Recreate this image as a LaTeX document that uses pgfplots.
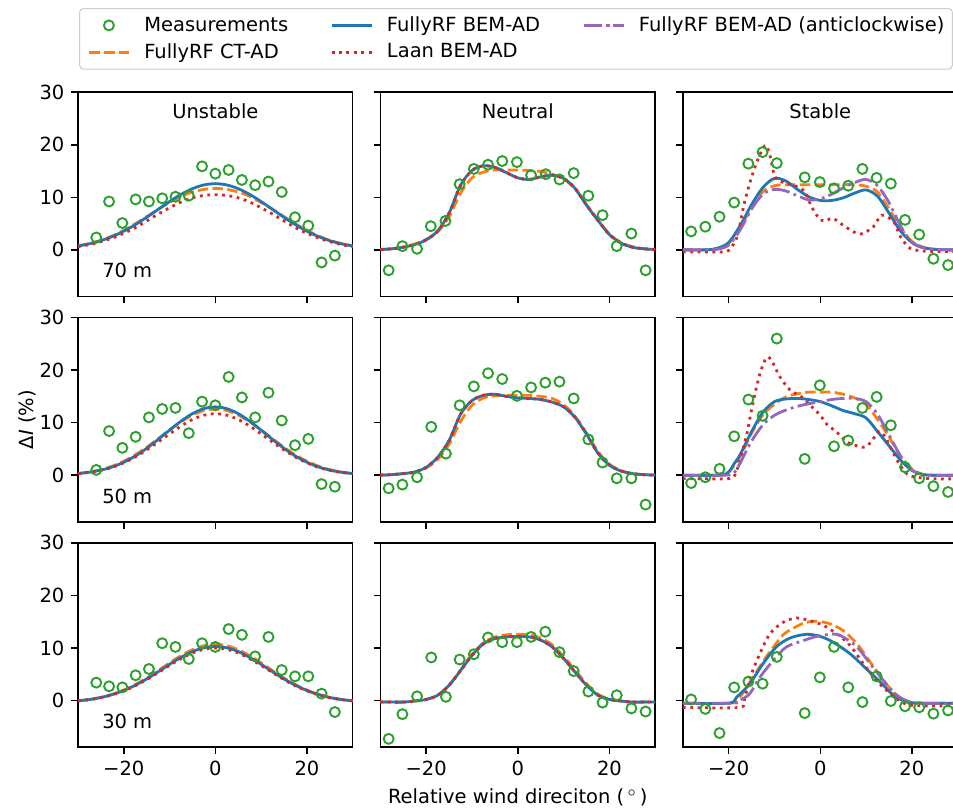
\documentclass[border=0pt]{standalone}
\usepackage{fontspec}
\setmainfont{DejaVu Sans}
\usepackage{pgfplots}
\pgfplotsset{compat=1.18}
\usepgfplotslibrary{groupplots}

\definecolor{mblue}{HTML}{1F77B4}
\definecolor{morange}{HTML}{FF7F0E}
\definecolor{mgreen}{HTML}{2CA02C}
\definecolor{mred}{HTML}{D62728}
\definecolor{mpurple}{HTML}{9467BD}

\pgfplotsset{
  meas/.style={only marks, mark=o, mark size=2.5pt, color=mgreen, mark options={line width=0.95pt}},
  ctad/.style={color=morange, line width=1.4pt, dash pattern=on 5.2pt off 2.2pt, smooth, no markers},
  bem/.style={color=mblue, line width=1.4pt, smooth, no markers},
  laan/.style={color=mred, line width=1.4pt, dash pattern=on 1.4pt off 2.3pt, smooth, no markers},
  anti/.style={color=mpurple, line width=1.4pt, dash pattern=on 9pt off 2.2pt on 1.4pt off 2.2pt, smooth, no markers},
}

\begin{document}
\fontsize{9.75}{11.7}\selectfont
\begin{tikzpicture}
\begin{groupplot}[
  group style={group size=3 by 3, horizontal sep=13.85pt, vertical sep=10.5pt},
  scale only axis, width=137.5pt, height=102.25pt,
  xmin=-30, xmax=30, ymin=-8.9, ymax=30,
  xtick={-20,0,20}, ytick={0,10,20,30},
  xticklabels={}, yticklabels={},
  tick align=outside, tick pos=left,
  major tick length=3.35pt,
  axis line style={line width=0.76pt},
  every tick/.append style={line width=0.76pt, black},
  legend image code/.code={\draw[mark repeat=2,mark phase=2,#1] plot coordinates {(0pt,0pt) (10pt,0pt) (20pt,0pt)};},
  every axis plot/.append style={forget plot},
  ylabel shift=-5pt,
]

% ---------------- 70 m, unstable ----------------
\nextgroupplot[yticklabels={0,10,20,30},
  legend columns=3,
  legend style={at={(0.004,1.412)}, anchor=north west, draw=black!20, line width=0.5pt,
    rounded corners=2pt, fill=white, inner xsep=4pt, inner ysep=4pt,
    row sep=4.6pt,
    /tikz/every odd column/.append style={column sep=7pt},
    /tikz/every even column/.append style={column sep=21pt},
    nodes={inner sep=0pt}},
  legend cell align=left]
\addlegendimage{meas}\addlegendentry{Measurements}
\addlegendimage{bem}\addlegendentry{FullyRF BEM-AD}
\addlegendimage{anti}\addlegendentry{FullyRF BEM-AD (anticlockwise)}
\addlegendimage{ctad}\addlegendentry{FullyRF CT-AD}
\addlegendimage{laan}\addlegendentry{Laan BEM-AD}
\addplot[meas] coordinates {(-26.0,2.35) (-23.2,9.2) (-20.3,5.1) (-17.4,9.6) (-14.5,9.2) (-11.6,9.8) (-8.7,10.1) (-5.8,10.3) (-2.9,15.9) (0,14.5) (2.9,15.2) (5.8,13.3) (8.7,12.3) (11.6,13.0) (14.5,11.0) (17.4,6.2) (20.3,4.6) (23.2,-2.4) (26.1,-1.1)};
\addplot[ctad] coordinates {(-30,0.75)(-27.5,1.2)(-25,1.8)(-22.5,2.65)(-20,3.7)(-17.5,4.95)(-15,6.3)(-12.5,7.7)(-10,9.0)(-7.5,10.2)(-5,11.0)(-2.5,11.5)(0,11.7)(2.5,11.5)(5,11.0)(7.5,10.2)(10,9.0)(12.5,7.7)(15,6.3)(17.5,4.95)(20,3.7)(22.5,2.65)(25,1.8)(27.5,1.2)(30,0.75)};
\addplot[bem] coordinates {(-30,0.73)(-27.5,1.15)(-25,1.74)(-22.5,2.54)(-20,3.55)(-17.5,4.78)(-15,6.19)(-12.5,7.69)(-10,9.19)(-7.5,10.55)(-5,11.64)(-2.5,12.35)(0,12.6)(2.5,12.35)(5,11.64)(7.5,10.55)(10,9.19)(12.5,7.69)(15,6.19)(17.5,4.78)(20,3.55)(22.5,2.54)(25,1.74)(27.5,1.15)(30,0.73)};
\addplot[laan] coordinates {(-30,0.6)(-27.5,1.0)(-25,1.55)(-22.5,2.25)(-20,3.15)(-17.5,4.2)(-15,5.5)(-12.5,6.8)(-10,8.0)(-7.5,9.1)(-5,9.9)(-2.5,10.35)(0,10.5)(2.5,10.35)(5,9.9)(7.5,9.1)(10,8.0)(12.5,6.8)(15,5.5)(17.5,4.2)(20,3.15)(22.5,2.25)(25,1.55)(27.5,1.0)(30,0.6)};
\node at (rel axis cs:0.5,0.908) {Unstable};
\node[anchor=west, inner sep=0pt] at (rel axis cs:0.087,0.127) {70 m};

% ---------------- 70 m, neutral ----------------
\nextgroupplot
\addplot[meas] coordinates {(-28.2,-3.9) (-25.2,0.7) (-22.0,0.2) (-19.0,4.5) (-15.8,5.5) (-12.7,12.5) (-9.6,15.4) (-6.5,16.2) (-3.4,16.9) (-0.2,16.7) (2.9,14.2) (6.1,14.4) (9.1,13.4) (12.2,14.6) (15.4,10.3) (18.5,6.6) (21.6,0.7) (24.8,3.1) (27.9,-3.9)};
\addplot[ctad] coordinates {(-30,0.05)(-27.5,0.2)(-25,0.5)(-22.5,1.1)(-20,2.0)(-17.5,3.4)(-15,6.3)(-12.5,10.8)(-10,13.7)(-7.5,14.8)(-5,15.2)(-2.5,15.2)(0,15.2)(2.5,15.1)(5,14.9)(7.5,14.4)(10,13.5)(12.5,11.6)(15,8.6)(17.5,5.7)(20,3.0)(22.5,1.4)(25,0.6)(27.5,0.2)(30,0.05)};
\addplot[bem] coordinates {(-30,0.05)(-27.5,0.2)(-25,0.5)(-22.5,1.0)(-20,1.9)(-17.5,3.6)(-15,7.0)(-12.5,12.3)(-10,15.1)(-7.5,16.0)(-5,15.7)(-2.5,14.7)(0,13.7)(2.5,13.4)(5,13.9)(7.5,14.2)(10,13.6)(12.5,11.7)(15,8.5)(17.5,5.6)(20,2.9)(22.5,1.3)(25,0.5)(27.5,0.2)(30,0.05)};
\addplot[laan] coordinates {(-30,0.05)(-27.5,0.2)(-25,0.5)(-22.5,1.0)(-20,1.9)(-17.5,3.6)(-15,7.0)(-12.5,12.3)(-10,15.1)(-7.5,16.0)(-5,15.7)(-2.5,14.7)(0,13.7)(2.5,13.4)(5,13.9)(7.5,14.2)(10,13.6)(12.5,11.7)(15,8.5)(17.5,5.6)(20,2.9)(22.5,1.3)(25,0.5)(27.5,0.2)(30,0.05)};
\node at (rel axis cs:0.5,0.908) {Neutral};

% ---------------- 70 m, stable ----------------
\nextgroupplot
\addplot[meas] coordinates {(-28.2,3.5) (-25.1,4.4) (-22.0,6.3) (-18.8,9.0) (-15.7,16.4) (-12.6,18.6) (-9.5,16.5) (-3.4,13.8) (-0.1,12.9) (3.0,11.7) (6.1,12.2) (9.2,15.4) (12.3,13.7) (15.4,12.6) (18.5,5.7) (21.6,2.9) (24.7,-1.7) (27.9,-2.9)};
\addplot[ctad] coordinates {(-30,0)(-25,0)(-22.5,0.2)(-20,1.2)(-17.5,4.2)(-15,8.1)(-12.5,11.1)(-10,12.2)(-7.5,12.4)(-5,12.4)(-2.5,12.4)(0,12.4)(2.5,12.4)(5,12.4)(7.5,12.4)(10,12.1)(12.5,11.0)(15,7.8)(17.5,4.2)(20,1.6)(22.5,0.5)(25,0.1)(27.5,0)(30,0)};
\addplot[bem] coordinates {(-30,0)(-25,0)(-22.5,0.3)(-20,1.4)(-17.5,4.6)(-15,8.6)(-12.5,11.9)(-10,13.6)(-7.5,13.1)(-5,11.5)(-2.5,10.1)(0,9.4)(2.5,9.4)(5,9.9)(7.5,10.8)(10,11.4)(12.5,10.2)(15,7.0)(17.5,3.6)(20,1.4)(22.5,0.4)(25,0.1)(27.5,0)(30,0)};
\addplot[laan] coordinates {(-30,-0.4)(-25,-0.4)(-21,-0.4)(-20,-0.1)(-19,1.0)(-18,3.0)(-16.5,9.2)(-14.6,14.9)(-13,18.5)(-11.9,19.9)(-11,18.0)(-9.9,13.9)(-8,12.8)(-5.9,12.3)(-3.4,11.1)(-1.9,8.2)(0,5.7)(1.5,5.6)(2.8,6.0)(5.8,4.2)(8.7,3.0)(11.6,4.4)(13.4,6.6)(16,5.4)(17.5,2.5)(19.6,0.3)(22.2,-0.2)(25,-0.3)(30,-0.3)};
\addplot[anti] coordinates {(-30,0)(-25,0)(-22.5,0.1)(-20,0.9)(-17.5,3.8)(-15,7.8)(-12.5,10.6)(-10,11.5)(-7.5,11.2)(-5,10.3)(-2.5,9.5)(0,9.7)(2.5,10.6)(5,11.8)(7.5,12.8)(10,13.4)(12.5,12.2)(15,9.0)(17.5,4.6)(20,1.4)(22.5,0.4)(25,0.1)(27.5,0)(30,0)};
\node at (rel axis cs:0.5,0.908) {Stable};

% ---------------- 50 m, unstable ----------------
\nextgroupplot[yticklabels={0,10,20,30}, ylabel={Δ\textit{I} (\%)}]
\addplot[meas] coordinates {(-26.0,1.0) (-23.2,8.4) (-20.3,5.2) (-17.4,7.3) (-14.5,11.0) (-11.6,12.6) (-8.7,12.8) (-5.8,8.0) (-2.9,14.0) (0,13.3) (2.9,18.7) (5.8,14.8) (8.7,11.0) (11.6,15.7) (14.5,10.4) (17.4,5.7) (20.3,6.9) (23.2,-1.7) (26.1,-2.2)};
\addplot[ctad] coordinates {(-30,0.32)(-27.5,0.6)(-25,1.05)(-22.5,1.72)(-20,2.65)(-17.5,3.85)(-15,5.3)(-12.5,6.95)(-10,8.6)(-7.5,10.15)(-5,11.45)(-2.5,12.3)(0,12.6)(2.5,12.3)(5,11.45)(7.5,10.15)(10,8.6)(12.5,6.95)(15,5.3)(17.5,3.85)(20,2.65)(22.5,1.72)(25,1.05)(27.5,0.6)(30,0.32)};
\addplot[bem] coordinates {(-30,0.31)(-27.5,0.56)(-25,0.96)(-22.5,1.57)(-20,2.46)(-17.5,3.63)(-15,5.10)(-12.5,6.79)(-10,8.57)(-7.5,10.28)(-5,11.71)(-2.5,12.66)(0,13.0)(2.5,12.66)(5,11.71)(7.5,10.28)(10,8.57)(12.5,6.79)(15,5.10)(17.5,3.63)(20,2.46)(22.5,1.57)(25,0.96)(27.5,0.56)(30,0.31)};
\addplot[laan] coordinates {(-30,0.29)(-27.5,0.53)(-25,0.92)(-22.5,1.5)(-20,2.35)(-17.5,3.45)(-15,4.8)(-12.5,6.3)(-10,7.85)(-7.5,9.35)(-5,10.6)(-2.5,11.42)(0,11.7)(2.5,11.42)(5,10.6)(7.5,9.35)(10,7.85)(12.5,6.3)(15,4.8)(17.5,3.45)(20,2.35)(22.5,1.5)(25,0.92)(27.5,0.53)(30,0.29)};
\node[anchor=west, inner sep=0pt] at (rel axis cs:0.087,0.127) {50 m};

% ---------------- 50 m, neutral ----------------
\nextgroupplot
\addplot[meas] coordinates {(-28.2,-2.5) (-25.2,-1.8) (-22.0,-0.4) (-18.9,9.2) (-15.7,4.1) (-12.7,13.3) (-9.6,16.9) (-6.5,19.4) (-3.4,18.3) (-0.2,15.1) (2.9,16.7) (6.0,17.6) (9.1,17.8) (12.2,14.6) (15.4,6.8) (18.5,2.4) (21.6,-0.6) (24.8,-0.6) (27.9,-5.6)};
\addplot[ctad] coordinates {(-30,0)(-27.5,0.1)(-25,0.3)(-22.5,0.6)(-20,1.4)(-17.5,3.0)(-15,5.9)(-12.5,10.2)(-10,13.3)(-7.5,14.7)(-5,15.1)(-2.5,15.2)(0,15.2)(2.5,15.2)(5,15.0)(7.5,14.6)(10,13.4)(12.5,11.2)(15,8.0)(17.5,4.5)(20,2.1)(22.5,0.9)(25,0.3)(27.5,0.1)(30,0)};
\addplot[bem] coordinates {(-30,0)(-27.5,0.1)(-25,0.3)(-22.5,0.6)(-20,1.5)(-17.5,3.4)(-15,6.6)(-12.5,11.6)(-10,14.2)(-7.5,15.2)(-5,15.4)(-2.5,15.0)(0,14.7)(2.5,14.6)(5,14.4)(7.5,13.9)(10,13.0)(12.5,11.0)(15,7.8)(17.5,4.2)(20,1.9)(22.5,0.8)(25,0.3)(27.5,0.1)(30,0)};
\addplot[laan] coordinates {(-30,0)(-27.5,0.1)(-25,0.3)(-22.5,0.6)(-20,1.5)(-17.5,3.4)(-15,6.6)(-12.5,11.6)(-10,14.2)(-7.5,15.2)(-5,15.4)(-2.5,15.0)(0,14.7)(2.5,14.6)(5,14.4)(7.5,13.9)(10,13.0)(12.5,11.0)(15,7.8)(17.5,4.2)(20,1.9)(22.5,0.8)(25,0.3)(27.5,0.1)(30,0)};

% ---------------- 50 m, stable ----------------
\nextgroupplot
\addplot[meas] coordinates {(-28.2,-1.5) (-25.1,-0.4) (-22.0,1.2) (-18.8,7.4) (-15.7,14.4) (-12.6,11.3) (-9.5,26.0) (-3.4,3.1) (-0.1,17.1) (3.0,5.5) (6.1,6.6) (9.2,12.8) (12.3,14.9) (15.4,9.5) (18.5,1.5) (21.6,-0.6) (24.7,-2.1) (27.9,-3.2)};
\addplot[ctad] coordinates {(-30,0)(-22,0)(-20,0.6)(-17.5,3.6)(-15,8.0)(-12.5,11.5)(-10,13.5)(-7.5,14.9)(-5,15.5)(-2.5,15.8)(0,15.8)(2.5,15.8)(5,15.4)(7.5,14.7)(10,13.5)(12.5,10.6)(15,7.3)(17.5,3.6)(20,1.2)(22.5,0.1)(25,0)(30,0)};
\addplot[bem] coordinates {(-30,0)(-22,0)(-20,0.6)(-18.8,2.2)(-17.5,3.9)(-15,8.3)(-12.5,12.0)(-10,14.0)(-7.5,14.5)(-5,14.6)(-2.5,14.4)(0,14.0)(2.5,13.2)(5,12.3)(7.5,11.7)(10,10.9)(12.5,8.3)(15,5.6)(17.5,2.9)(20,0.9)(22.5,0.1)(25,0)(30,0)};
\addplot[laan] coordinates {(-30,-0.7)(-25,-0.7)(-21,-0.7)(-19,-0.4)(-18,1.5)(-17,4.5)(-16,8.0)(-15,12.5)(-14,16.5)(-13,19.8)(-12,22.0)(-11.3,22.5)(-10.3,21.3)(-8.8,18.7)(-6.6,16.2)(-4.1,14.9)(-1.5,12.7)(0,11.4)(1.4,9.7)(3.6,8.2)(5.8,6.3)(7.6,5.7)(9.4,5.3)(11,6.2)(12.7,8.3)(14,7.5)(15.5,5.0)(17,2.5)(18.5,0.6)(19.6,-0.1)(22,-0.5)(25,-0.7)(30,-0.7)};
\addplot[anti] coordinates {(-30,0)(-21,0)(-19,0.3)(-17.5,2.3)(-15,6.5)(-12.5,9.6)(-10,11.4)(-7.5,12.4)(-5,13.1)(-2.5,13.6)(0,14.0)(2.5,14.4)(5,14.6)(7.5,14.6)(10,14.0)(12.5,11.6)(15,7.7)(17.5,3.7)(20,1.0)(22.5,0.1)(25,0)(30,0)};

% ---------------- 30 m, unstable ----------------
\nextgroupplot[yticklabels={0,10,20,30}, xticklabels={−20,0,20}]
\addplot[meas] coordinates {(-26.0,3.4) (-23.2,2.7) (-20.3,2.5) (-17.4,4.8) (-14.5,6.0) (-11.6,10.9) (-8.7,10.2) (-5.8,7.9) (-2.9,10.9) (0,10.2) (2.9,13.6) (5.8,12.5) (8.7,8.4) (11.6,12.1) (14.5,5.8) (17.4,4.6) (20.3,4.6) (23.2,1.3) (26.1,-2.2)};
\addplot[ctad] coordinates {(-30,-0.05)(-27.5,0.21)(-25,0.60)(-22.5,1.19)(-20,1.99)(-17.5,3.02)(-15,4.27)(-12.5,5.68)(-10,7.16)(-7.5,8.54)(-5,9.68)(-2.5,10.43)(0,10.7)(2.5,10.43)(5,9.68)(7.5,8.54)(10,7.16)(12.5,5.68)(15,4.27)(17.5,3.02)(20,1.99)(22.5,1.19)(25,0.60)(27.5,0.21)(30,-0.05)};
\addplot[bem] coordinates {(-30,-0.06)(-27.5,0.18)(-25,0.57)(-22.5,1.13)(-20,1.90)(-17.5,2.90)(-15,4.10)(-12.5,5.46)(-10,6.89)(-7.5,8.21)(-5,9.32)(-2.5,10.04)(0,10.3)(2.5,10.04)(5,9.32)(7.5,8.21)(10,6.89)(12.5,5.46)(15,4.10)(17.5,2.90)(20,1.90)(22.5,1.13)(25,0.57)(27.5,0.18)(30,-0.06)};
\addplot[laan] coordinates {(-30,-0.07)(-27.5,0.17)(-25,0.54)(-22.5,1.09)(-20,1.84)(-17.5,2.80)(-15,3.98)(-12.5,5.30)(-10,6.68)(-7.5,7.97)(-5,9.04)(-2.5,9.75)(0,10.0)(2.5,9.75)(5,9.04)(7.5,7.97)(10,6.68)(12.5,5.30)(15,3.98)(17.5,2.80)(20,1.84)(22.5,1.09)(25,0.54)(27.5,0.17)(30,-0.07)};
\node[anchor=west, inner sep=0pt] at (rel axis cs:0.087,0.127) {30 m};

% ---------------- 30 m, neutral ----------------
\nextgroupplot[xticklabels={−20,0,20}, xlabel={Relative wind direciton (\,$^\circ$\,)}]
\addplot[meas] coordinates {(-28.2,-7.3) (-25.2,-2.6) (-22.0,0.8) (-18.9,8.2) (-15.7,0.7) (-12.7,7.8) (-9.6,8.8) (-6.5,12.0) (-3.4,11.1) (-0.2,11.1) (2.9,12.1) (6.0,13.1) (9.1,9.2) (12.2,5.6) (15.4,1.7) (18.5,-0.4) (21.6,1.0) (24.8,-1.5) (27.9,-2.1)};
\addplot[ctad] coordinates {(-30,-0.3)(-27.5,-0.3)(-25,-0.3)(-22.5,-0.1)(-20,0.2)(-17.5,1.0)(-15,2.9)(-12.5,5.8)(-10,8.8)(-7.5,11.0)(-5,12.1)(-2.5,12.5)(0,12.6)(2.5,12.5)(5,11.9)(7.5,10.6)(10,8.4)(12.5,5.8)(15,3.2)(17.5,1.2)(20,0.3)(22.5,-0.1)(25,-0.3)(27.5,-0.3)(30,-0.3)};
\addplot[bem] coordinates {(-30,-0.3)(-27.5,-0.3)(-25,-0.3)(-22.5,-0.1)(-20,0.2)(-17.5,1.0)(-15,2.9)(-12.5,5.7)(-10,8.6)(-7.5,10.8)(-5,11.8)(-2.5,12.1)(0,12.2)(2.5,12.1)(5,11.5)(7.5,10.2)(10,8.0)(12.5,5.4)(15,2.9)(17.5,1.0)(20,0.2)(22.5,-0.1)(25,-0.3)(27.5,-0.3)(30,-0.3)};
\addplot[laan] coordinates {(-30,-0.3)(-27.5,-0.3)(-25,-0.3)(-22.5,-0.1)(-20,0.2)(-17.5,1.0)(-15,2.9)(-12.5,5.7)(-10,8.6)(-7.5,10.8)(-5,11.8)(-2.5,12.1)(0,12.2)(2.5,12.1)(5,11.5)(7.5,10.2)(10,8.0)(12.5,5.4)(15,2.9)(17.5,1.0)(20,0.2)(22.5,-0.1)(25,-0.3)(27.5,-0.3)(30,-0.3)};

% ---------------- 30 m, stable ----------------
\nextgroupplot[xticklabels={−20,0,20}]
\addplot[meas] coordinates {(-28.2,0.2) (-25.1,-1.6) (-22.0,-6.2) (-18.8,2.5) (-15.7,3.6) (-12.6,3.2) (-9.5,8.3) (-3.4,-2.4) (-0.1,4.4) (3.0,10.2) (6.1,2.5) (9.2,-0.3) (12.3,4.6) (15.4,-0.1) (18.5,-1.1) (21.6,-1.3) (24.7,-2.5) (27.9,-1.9)};
\addplot[ctad] coordinates {(-30,-0.5)(-19.5,-0.5)(-17.6,0.6)(-14.7,4.4)(-11.8,8.3)(-8.8,11.8)(-7.4,13.0)(-3.7,14.7)(-0.8,15.1)(2.1,14.6)(5.0,13.3)(8.0,10.8)(10.9,7.3)(13.8,3.8)(16.7,1.0)(19.6,-0.3)(22,-0.5)(30,-0.5)};
\addplot[bem] coordinates {(-30,-0.5)(-20,-0.5)(-18.3,0.6)(-15.4,3.2)(-12.5,7.0)(-9.6,10.2)(-6.6,11.9)(-3,12.6)(0,12.2)(2.8,11.1)(6.5,8.9)(10.1,6.0)(13.1,3.5)(16,1.0)(18.9,-0.3)(21.8,-0.5)(30,-0.5)};
\addplot[laan] coordinates {(-30,-1.3)(-17.6,-1.3)(-16.5,0.6)(-15.0,5.1)(-13.2,8.9)(-11.0,12.7)(-8.1,14.9)(-5.2,15.7)(-2.3,15.2)(0.7,14.3)(3.6,12.7)(6.5,10.5)(9.4,7.0)(12.3,3.8)(15.3,1.3)(18.2,-0.5)(21.1,-1.0)(30,-1.0)};
\addplot[anti] coordinates {(-30,-0.5)(-19,-0.5)(-17.6,0)(-15.4,1.3)(-13.2,4.4)(-10.3,7.6)(-7.4,10.2)(-3.7,11.4)(-0.8,12.2)(2.1,12.6)(3.5,12.6)(5.0,12.1)(8.0,10.2)(10.9,7.0)(13.8,3.8)(16.7,1.0)(19.6,-0.3)(22,-0.5)(30,-0.5)};
\end{groupplot}
\pgfresetboundingbox
\path[use as bounding box] ([xshift=-39pt,yshift=46.15pt]group c1r1.north west) rectangle ([xshift=135.15pt,yshift=-30.85pt]group c3r3.south west);
\end{tikzpicture}
\end{document}
